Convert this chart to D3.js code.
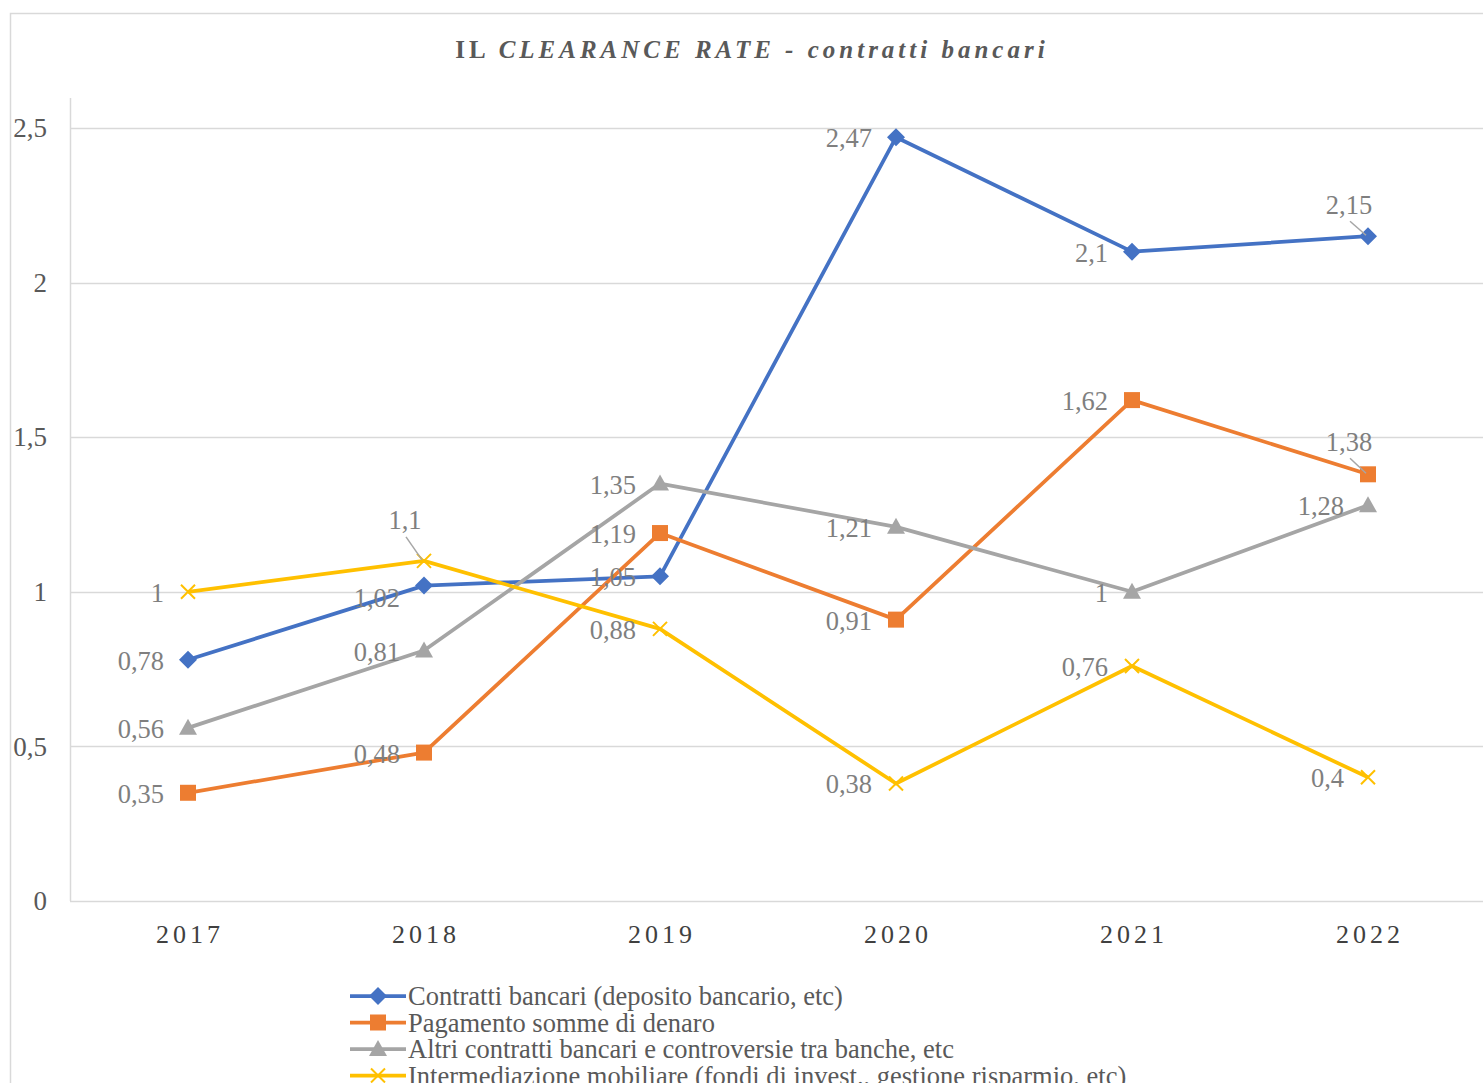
<!DOCTYPE html>
<html>
<head>
<meta charset="utf-8">
<script src="https://cdn.jsdelivr.net/npm/d3@7/dist/d3.min.js"></script>
<style>
  html, body { margin: 0; padding: 0; background: #fff; }
  svg { display: block; }
  text { font-family: "Liberation Serif", "Times New Roman", serif; }
</style>
</head>
<body>
<svg id="chart" width="1483" height="1083"></svg>
<script>
// Years on the category axis
const years = ["2017", "2018", "2019", "2020", "2021", "2022"];

// Clearance rate per type of banking dispute
const contrattiBancari = [0.78, 1.02, 1.05, 2.47, 2.10, 2.15];
const pagamentoSomme   = [0.35, 0.48, 1.19, 0.91, 1.62, 1.38];
const altriContratti   = [0.56, 0.81, 1.35, 1.21, 1.00, 1.28];
const intermediazione  = [1.00, 1.10, 0.88, 0.38, 0.76, 0.40];

const seriesNames = [
  "Contratti bancari (deposito bancario, etc)",
  "Pagamento somme di denaro",
  "Altri contratti bancari e controversie tra banche, etc",
  "Intermediazione mobiliare (fondi di invest., gestione risparmio, etc)"
];

const yTicks = [0, 0.5, 1, 1.5, 2, 2.5];

const series = [
  { name: seriesNames[0], values: contrattiBancari, color: "#4472C4", marker: "diamond" },
  { name: seriesNames[1], values: pagamentoSomme,   color: "#ED7D31", marker: "square" },
  { name: seriesNames[2], values: altriContratti,   color: "#A5A5A5", marker: "triangle" },
  { name: seriesNames[3], values: intermediazione,  color: "#FFC000", marker: "cross" }
];

// Label placement exceptions: "series-index" -> how the data label sits
const labelPlacement = {
  "0-1": { mode: "left", dy: 11 },
  "0-5": { mode: "above", dy: -32 },
  "1-5": { mode: "above", dy: -33 },
  "3-1": { mode: "above", dy: -41 }
};

const svg = d3.select("#chart");
const fmt = v => String(v).replace(".", ",");

// Chart frame
svg.append("rect")
  .attr("x", 10.5).attr("y", 13.5)
  .attr("width", 1490).attr("height", 1100)
  .attr("fill", "#fff").attr("stroke", "#d9d9d9").attr("stroke-width", 1.5);

const plot = { left: 70, right: 1486, top: 98, bottom: 901 };

const x = d3.scaleBand().domain(years).range([plot.left, plot.right]).padding(0);
const y = d3.scaleLinear().domain([0, 2.5]).range([plot.bottom, 128]);
const cx = yr => x(yr) + x.bandwidth() / 2;

// Title
const title = svg.append("text")
  .attr("x", 752).attr("y", 58)
  .attr("text-anchor", "middle")
  .attr("fill", "#595959")
  .attr("font-size", 25)
  .attr("font-weight", "bold")
  .attr("letter-spacing", 4);
title.append("tspan").text("IL ");
title.append("tspan").attr("font-style", "italic").text("CLEARANCE RATE");
title.append("tspan").attr("font-style", "italic").text(" - contratti bancari");

// Gridlines
svg.append("g")
  .selectAll("line")
  .data(yTicks.filter(t => t > 0))
  .join("line")
  .attr("x1", plot.left).attr("x2", 1483)
  .attr("y1", d => Math.round(y(d)) + 0.5).attr("y2", d => Math.round(y(d)) + 0.5)
  .attr("stroke", "#d9d9d9").attr("stroke-width", 1.5);

// Axes lines
svg.append("line")
  .attr("x1", plot.left + 0.5).attr("x2", plot.left + 0.5)
  .attr("y1", plot.top).attr("y2", plot.bottom)
  .attr("stroke", "#d9d9d9").attr("stroke-width", 1.5);
svg.append("line")
  .attr("x1", plot.left).attr("x2", 1483)
  .attr("y1", plot.bottom + 0.5).attr("y2", plot.bottom + 0.5)
  .attr("stroke", "#d9d9d9").attr("stroke-width", 1.5);

// Y axis via d3.axisLeft, styled to show labels only
const yAxis = svg.append("g")
  .attr("transform", `translate(${plot.left - 23},0)`)
  .call(d3.axisLeft(y).tickValues(yTicks).tickFormat(fmt).tickSize(0).tickPadding(0));
yAxis.select(".domain").remove();
yAxis.selectAll("text")
  .attr("font-family", "Liberation Serif, Times New Roman, serif")
  .attr("font-size", 27).attr("fill", "#595959").attr("dy", "0.32em");

// X axis
const xAxis = svg.append("g")
  .attr("transform", `translate(0,${plot.bottom})`)
  .call(d3.axisBottom(x).tickSize(0).tickPadding(0));
xAxis.select(".domain").remove();
xAxis.selectAll("text")
  .attr("font-family", "Liberation Serif, Times New Roman, serif")
  .attr("font-size", 26).attr("fill", "#404040")
  .attr("letter-spacing", 4)
  .attr("y", 34).attr("dy", "0.32em")
  .attr("dx", 2);

// Marker drawing
function drawMarker(g, type, color) {
  if (type === "diamond") {
    g.append("path").attr("d", "M0,-9L9,0L0,9L-9,0Z").attr("fill", color);
  } else if (type === "square") {
    g.append("rect").attr("x", -8).attr("y", -8).attr("width", 16).attr("height", 16).attr("fill", color);
  } else if (type === "triangle") {
    g.append("path").attr("d", "M0,-9L9,7L-9,7Z").attr("fill", color);
  } else if (type === "cross") {
    g.append("path").attr("d", "M-7,-7L7,7M-7,7L7,-7")
      .attr("stroke", color).attr("stroke-width", 2).attr("fill", "none");
  }
}

const line = d3.line().x((d, i) => cx(years[i])).y(d => y(d));

// Series lines and markers
series.forEach(s => {
  svg.append("path")
    .datum(s.values)
    .attr("d", line)
    .attr("fill", "none")
    .attr("stroke", s.color)
    .attr("stroke-width", 3.75)
    .attr("stroke-linejoin", "round");
  s.values.forEach((v, i) => {
    const g = svg.append("g").attr("transform", `translate(${cx(years[i])},${y(v)})`);
    drawMarker(g, s.marker, s.color);
  });
});

// Data labels
const labelG = svg.append("g");
series.forEach((s, si) => {
  s.values.forEach((v, i) => {
    const px = cx(years[i]), py = y(v);
    const p = labelPlacement[`${si}-${i}`] || { mode: "left", dy: 0 };
    if (p.mode === "above") {
      const lx = px - 19, ly = py + p.dy;
      labelG.append("line")
        .attr("x1", lx + 1).attr("y1", ly + 17)
        .attr("x2", px - 2).attr("y2", py - 1)
        .attr("stroke", "#a6a6a6").attr("stroke-width", 1.5);
      labelG.append("text")
        .attr("x", lx).attr("y", ly + 1).attr("dy", "0.32em")
        .attr("text-anchor", "middle")
        .attr("font-size", 26.5).attr("fill", "#7f7f7f")
        .text(fmt(v));
    } else {
      labelG.append("text")
        .attr("x", px - 24).attr("y", py + p.dy + 1.5).attr("dy", "0.32em")
        .attr("text-anchor", "end")
        .attr("font-size", 26.5).attr("fill", "#7f7f7f")
        .text(fmt(v));
    }
  });
});

// Legend
const legend = svg.append("g");
series.forEach((s, i) => {
  const ly = 996 + i * 26.5;
  legend.append("line")
    .attr("x1", 350).attr("x2", 406)
    .attr("y1", ly).attr("y2", ly)
    .attr("stroke", s.color).attr("stroke-width", 3.75);
  const g = legend.append("g").attr("transform", `translate(378,${ly})`);
  drawMarker(g, s.marker, s.color);
  legend.append("text")
    .attr("x", 408).attr("y", ly + 1).attr("dy", "0.32em")
    .attr("font-size", 26.5).attr("fill", "#595959")
    .text(s.name);
});
</script>
</body>
</html>
